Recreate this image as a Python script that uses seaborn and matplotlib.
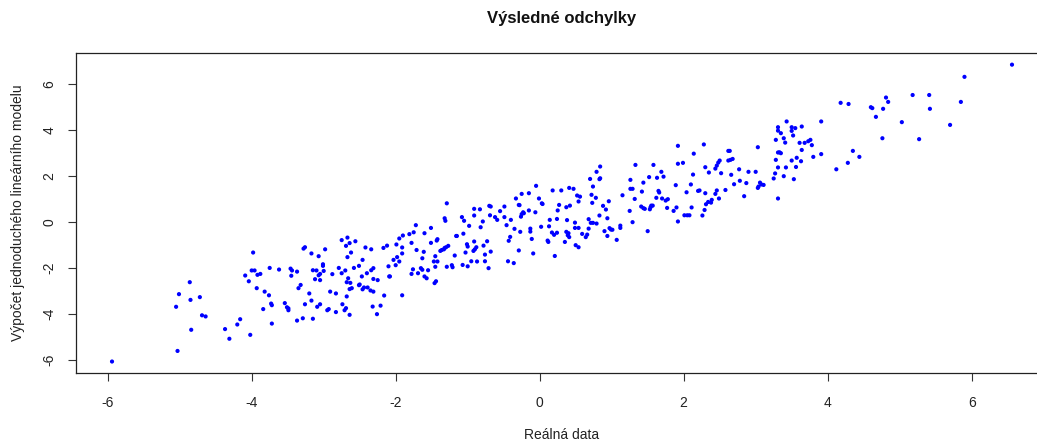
import matplotlib
matplotlib.use("Agg")
import matplotlib.pyplot as plt
import seaborn as sns
import pandas as pd

# Observed values (x) against predictions of the simple linear model (y)
real_data = [
    -5.94, -5.03, -4.86, -5.01, -4.85, -4.72, -5.05, -4.69, -4.64, -4.84, -4.37, -4.31, -4.20, -4.16, -4.09, -4.04, -4.02,
    -3.98, -4.00, -3.96, -3.92, -3.88, -3.75, -3.62, -3.46, -3.44, -3.45, -3.37, -3.93, -3.82, -3.76, -3.73, -3.72, -3.84,
    -3.72, -3.54, -3.51, -3.49, -3.49, -3.32, -3.35, -3.20, -3.26, -3.17, -3.37, -3.29, -3.15, -3.26, -3.28, -3.17, -3.07,
    -2.98, -3.10, -3.15, -3.01, -3.01, -3.00, -3.05, -3.07, -3.12, -3.05, -3.09, -3.05, -2.91, -2.83, -2.95, -2.93, -2.83,
    -2.79, -2.75, -2.70, -2.88, -2.66, -2.68, -2.63, -2.58, -2.51, -2.64, -2.61, -2.68, -2.74, -2.69, -2.71, -2.64, -2.51,
    -2.75, -2.67, -2.64, -2.56, -2.69, -2.62, -2.67,
    -1.29, -1.32, -1.31, -1.08, -1.05, -0.91, -0.91, -1.72, -0.98, -1.81, -1.75, -1.60, -1.51, -1.95, -1.90, -1.16, -1.15,
    -1.06, -1.42, -1.43, -0.91, -1.78, -1.51, -1.99, -1.91, -1.71, -1.61, -1.27, -1.30, -1.32, -1.33, -1.36, -1.38, -1.01,
    -1.00, -0.90, -0.92, -2.42, -2.34, -2.17, -2.12, -1.91, -1.18, -1.03, -2.46, -1.98, -2.03, -1.95, -2.10, -2.00, -1.63,
    -1.45, -1.47, -1.42, -1.45, -1.29, -1.22, -1.21, -1.07, -1.00, -0.95, -1.76, -1.65, -1.63, -1.55, -1.78, -1.69, -1.60,
    -1.57, -1.44, -1.46, -2.31, -2.34, -2.40, -2.47, -2.09, -2.08, -2.31, -2.25, -2.50, -2.46, -2.44, -2.39, -2.35, -2.31,
    -2.16, -1.91, -2.32, -2.21, -2.26,
    -0.83, -0.79, -0.82, -0.70, -0.68, -0.69, -0.62, -0.59, -0.55, -0.49, -0.49, -0.46, -0.40, -0.33, -0.29, -0.28, -0.25,
    -0.23, -0.22, -0.25, -0.26, -0.15, -0.15, -0.06, -0.05, -0.01, 0.03, 0.04, -0.35, -0.27, -0.13, -0.13, -0.11, -0.41,
    -0.43, 0.02, 0.13, 0.14, 0.18, 0.24, 0.25, 0.27, 0.30, 0.37, 0.42, 0.41, 0.47, 0.52, 0.56, 0.54, 0.70, 0.38, 0.49,
    0.49, 0.54, 0.17, 0.20, 0.24, 0.11, 0.12, 0.37, 0.40, 0.39, 0.35, 0.41, 0.50, 0.54, 0.59, 0.64, 0.68, 0.66, 0.68,
    -0.88, -0.78, -0.73, -0.76, -0.68, -0.87, -0.76, -0.71, -0.44, -0.36, -0.29, -0.09, 0.21,
    0.84, 0.79, 0.83, 0.84, 0.74, 0.72, 0.73, 0.78, 0.71, 0.74, 0.79, 0.83, 0.88, 0.92, 0.96, 0.94, 0.90, 0.94, 0.97,
    0.99, 1.01, 1.07, 1.12, 1.12, 1.15, 1.26, 1.26, 1.29, 1.32, 1.25, 1.29, 1.33, 1.44, 1.42, 1.41, 1.44, 1.46, 1.50,
    1.52, 1.58, 1.54, 1.55, 1.57, 1.53, 1.63, 1.62, 1.65, 1.66, 1.69, 1.72, 1.70, 1.75, 1.78, 1.77, 1.86, 1.90, 1.89,
    1.92, 1.92, 1.99, 1.92, 2.01, 2.05, 2.08, 2.04, 2.10, 2.13, 2.14, 2.11, 2.20, 2.26, 2.28, 2.29,
    2.30, 2.35, 2.44, 2.46, 2.48, 2.50, 2.52, 2.62, 2.64, 2.62, 2.65, 2.68, 2.66, 2.77, 2.70, 2.78, 2.87, 2.90, 3.00,
    3.03, 3.06, 3.08, 3.11, 3.04, 3.03, 2.84, 2.22, 2.30, 2.34, 2.38, 2.39, 2.44, 2.46, 2.49, 2.58, 2.31, 3.25, 3.27,
    3.28, 3.31, 3.31, 3.33, 3.35, 3.28, 3.31, 3.31, 3.35, 3.39, 3.41, 3.43, 3.50, 3.55, 3.52, 3.50, 3.64, 3.61, 3.68,
    3.73, 3.76, 3.78, 3.64, 3.50, 3.57, 3.63, 3.56, 3.42, 3.39, 3.53, 3.80, 3.31,
    3.91, 3.91, 4.12, 4.18, 4.29, 4.28, 4.35, 4.44, 4.60, 4.62, 4.67, 4.77, 4.81, 4.84, 4.76, 5.03, 5.18, 5.27, 5.41,
    5.42, 6.56, 5.90, 5.85, 5.70,
]

model_values = [
    -6.06, -5.60, -2.61, -3.13, -3.38, -3.26, -3.68, -4.05, -4.10, -4.68, -4.65, -5.07, -4.45, -4.22, -2.32, -2.57, -4.90,
    -1.32, -2.10, -2.10, -2.29, -2.25, -1.99, -2.06, -2.02, -2.10, -2.33, -2.15, -2.87, -3.02, -3.18, -3.54, -3.61, -3.78,
    -4.41, -3.52, -3.70, -3.75, -3.83, -2.73, -2.87, -3.10, -3.57, -3.41, -4.28, -4.18, -4.20, -1.09, -1.15, -1.36, -1.48,
    -1.18, -2.10, -2.09, -1.83, -1.90, -2.12, -2.25, -2.31, -2.48, -2.52, -3.68, -3.57, -3.02, -3.10, -3.83, -3.78, -3.91,
    -1.99, -2.22, -2.10, -2.26, -2.44, -2.61, -2.64, -1.99, -1.90, -2.91, -2.87, -3.23, -3.57, -3.74, -3.83, -4.03, -2.74,
    -0.78, -0.67, -0.91, -0.83, -1.03, -1.32, -1.52,
    0.82, 0.17, 0.06, 0.22, 0.06, 0.29, 0.58, -0.13, -0.16, -0.52, -0.44, -0.48, -0.25, -0.71, -0.58, -0.60, -0.60,
    -0.50, -0.74, -0.80, -0.84, -0.90, -0.90, -0.97, -1.10, -1.21, -1.29, -1.03, -1.09, -1.12, -1.18, -1.21, -1.25, -0.96,
    -1.06, -1.18, -1.25, -1.10, -1.18, -1.12, -1.02, -1.36, -1.45, -1.32, -1.64, -1.52, -1.64, -1.71, -1.92, -1.87, -1.57,
    -1.48, -1.71, -1.71, -1.94, -1.94, -1.87, -1.96, -1.86, -1.92, -1.70, -2.05, -2.00, -2.07, -2.09, -2.25, -2.22, -2.36,
    -2.44, -2.57, -2.65, -2.00, -2.09, -2.22, -2.36, -2.36, -2.36, -2.47, -2.52, -2.71, -2.92, -2.84, -2.84, -2.97, -3.02,
    -3.19, -3.18, -3.67, -3.63, -4.00,
    0.56, 0.03, -0.22, 0.71, 0.68, 0.30, 0.22, 0.10, 0.48, 0.68, 0.22, -0.13, 0.10, 1.03, 0.75, 0.74, 1.23,
    0.43, 0.39, 0.35, 0.24, 1.26, 0.51, 0.43, 1.58, 1.03, 0.82, 0.79, -0.29, -0.42, -0.28, -0.41, -0.73, -0.64,
    -0.81, -0.20, -0.18, 0.10, 1.38, 0.14, 0.51, 0.75, 1.38, 0.65, 0.72, 1.49, 1.45, 1.16, 1.11, 0.90, 1.88, 0.09, -0.02,
    -0.25, -0.25, -0.45, -0.55, -0.46, -0.80, -0.86, -0.42, -0.48, -0.57, -0.86, -0.65, -1.00, -1.09, -0.51, -0.65, 0.13, -0.54, -0.28,
    -1.09, -1.02, -0.83, -1.41, -1.28, -1.71, -1.70, -2.00, -1.70, -1.78, -1.23, -1.36, -1.47,
    2.42, 2.19, 1.87, 1.91, 1.55, 1.19, 0.84, 1.06, -0.03, -0.03, -0.06, 0.29, 0.71, 0.55, 0.91, 0.17, -0.39, -0.60, -0.26,
    -0.32, -0.33, -0.77, -0.15, -0.25, 1.17, 1.84, 1.45, 1.45, 1.01, 0.49, 0.00, 2.49, 1.72, 1.33, 0.68, 0.61, 0.58, -0.39,
    1.96, 2.49, 0.65, 0.72, 0.72, 0.56, 1.93, 1.06, 1.36, 1.29, 2.19, 1.98, 1.03, 0.94, 1.00, 0.62, 0.49, 0.64, 1.61,
    2.54, 3.32, 2.58, 0.03, 0.30, 0.30, 0.30, 1.30, 1.64, 2.07, 2.98, 0.64, 1.36, 0.29, 3.38, 0.53,
    2.39, 2.16, 2.33, 2.46, 2.59, 2.68, 2.13, 3.10, 3.10, 2.68, 2.71, 2.75, 2.06, 2.30, 1.65, 1.80, 1.70, 2.19, 2.19,
    3.26, 1.72, 1.64, 1.62, 1.55, 1.49, 1.13, 1.38, 1.26, 0.88, 0.85, 0.97, 1.23, 1.38, 1.03, 1.40, 0.78, 1.90, 2.12,
    2.71, 2.38, 3.03, 3.04, 3.00, 3.58, 4.13, 3.98, 3.87, 3.65, 3.46, 4.38, 4.13, 4.09, 3.77, 3.97, 4.16, 3.45, 3.45,
    3.52, 3.58, 3.35, 3.14, 2.68, 2.80, 2.65, 2.40, 2.38, 2.00, 1.87, 2.84, 1.03,
    2.96, 4.38, 2.30, 5.19, 5.14, 2.58, 3.10, 2.84, 5.00, 4.96, 4.58, 4.93, 5.42, 5.23, 3.65, 4.35, 5.53, 3.61, 5.53,
    4.93, 6.85, 6.32, 5.23, 4.23,
]

axis_ticks = [-6, -4, -2, 0, 2, 4, 6]
title_text = "Výsledné odchylky"
x_label = "Reálná data"
y_label = "Výpočet jednoduchého lineárního modelu"

df = pd.DataFrame({"real": real_data, "model": model_values})

sns.set_style("white")
plt.rcParams["font.family"] = ["Liberation Sans", "DejaVu Sans"]

fig = plt.figure(figsize=(10.37, 4.41), dpi=100)
ax = fig.add_axes([0.0733, 0.1533, 0.9373, 0.7270])

sns.scatterplot(data=df, x="real", y="model", color="#0000FF", s=9,
                linewidth=0, edgecolor="none", ax=ax)

# R-style axis extents: data range padded by 4% on each side
xmin, xmax = min(real_data), max(real_data)
ymin, ymax = min(model_values), max(model_values)
xpad = 0.04 * (xmax - xmin)
ypad = 0.04 * (ymax - ymin)
ax.set_xlim(xmin - xpad, xmax + xpad)
ax.set_ylim(ymin - ypad, ymax + ypad)

ax.set_xticks(axis_ticks)
ax.set_yticks(axis_ticks)
ax.set_xticklabels([str(t) for t in axis_ticks])
ax.set_yticklabels([str(t) for t in axis_ticks], rotation=90, va="center")
ax.tick_params(axis="both", which="major", bottom=True, left=True,
               direction="out", length=6, width=0.8,
               color="#333333", labelsize=10, labelcolor="#222222")
ax.tick_params(axis="x", pad=10)
ax.tick_params(axis="y", pad=8)

for side in ["left", "right", "top", "bottom"]:
    ax.spines[side].set_visible(True)
    ax.spines[side].set_color("#222222")
    ax.spines[side].set_linewidth(0.9)

ax.set_xlabel(x_label, fontsize=10, color="#222222")
ax.set_ylabel(y_label, fontsize=10, color="#222222")
ax.xaxis.set_label_coords(0.5, -0.192)
ax.xaxis.label.set_va("center")
ax.yaxis.set_label_coords(-0.0597, 0.5)
ax.yaxis.label.set_va("center")

fig.text(0.5 * (0.0733 + 0.0733 + 0.9373), 1 - 18 / 441, title_text,
         ha="center", va="center", fontsize=12, fontweight="bold", color="#111111")

fig.savefig("out.png", dpi=100)
